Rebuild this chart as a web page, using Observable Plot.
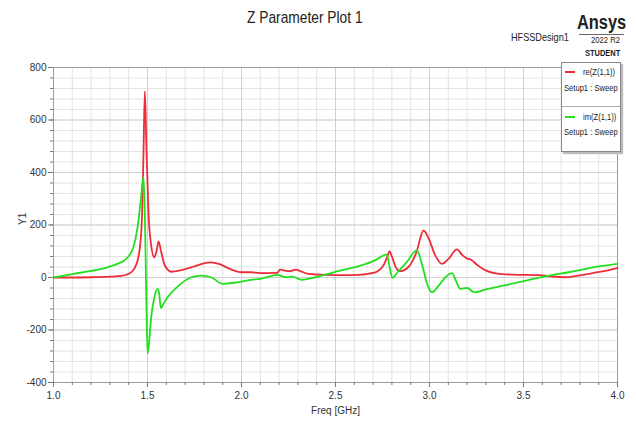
<!DOCTYPE html>
<html>
<head>
<meta charset="utf-8">
<script src="https://cdn.jsdelivr.net/npm/d3@7"></script>
<script src="https://cdn.jsdelivr.net/npm/@observablehq/plot@0.6"></script>
<style>
  body { margin: 0; background: #fff; }
  #wrap { position: relative; width: 636px; height: 424px; font-family: "Liberation Sans", Arial, sans-serif; color: #222; }
  .ov { position: absolute; white-space: nowrap; transform-origin: 0 0; }
  #legend { position: absolute; left: 561px; top: 62px; width: 58px; height: 88px; border: 1px solid #888; background: #fff; box-shadow: 2px 2px 1px #bbb; font-size: 9.5px; color: #222; }
  #legend .sep { position: absolute; left: 0; right: 0; top: 43px; height: 1px; background: #aaa; }
  #legend .sw { position: absolute; left: 3px; width: 10px; height: 2px; }
  #legend .t { position: absolute; white-space: nowrap; transform: scaleX(0.8); transform-origin: 0 0; }
</style>
</head>
<body>
<div id="wrap"></div>
<script>
// ---- data ----
const reFreq = [1.00,1.10,1.20,1.30,1.36,1.40,1.43,1.455,1.47,1.478,1.486,1.494,1.505,1.52,1.536,1.548,1.559,1.572,1.59,1.607,1.625,1.68,1.74,1.79,1.838,1.88,1.94,2.00,2.05,2.10,2.19,2.205,2.22,2.255,2.29,2.31,2.355,2.45,2.55,2.62,2.68,2.72,2.755,2.776,2.787,2.80,2.82,2.844,2.888,2.93,2.968,2.995,3.03,3.066,3.10,3.146,3.175,3.20,3.223,3.25,3.298,3.36,3.44,3.583,3.65,3.725,3.80,3.867,3.94,4.00];
const reVals = [0,0,1,3,6,14,34,91,217,450,710,500,250,120,77,100,138,100,50,30,22,28,40,52,58,52,32,20,20,17,18,30,28,24,30,25,14,10,9,10,15,22,46,80,100,80,40,24,40,95,179,150,85,52,70,107,85,72,67,50,27,15,11,9,4,1,8,17,26,37];

const imFreq = [1.00,1.109,1.20,1.287,1.34,1.376,1.41,1.43,1.452,1.465,1.479,1.487,1.493,1.50,1.508,1.52,1.535,1.553,1.562,1.571,1.585,1.607,1.66,1.73,1.785,1.838,1.90,1.96,2.05,2.10,2.195,2.22,2.24,2.27,2.32,2.38,2.44,2.53,2.62,2.71,2.773,2.785,2.803,2.83,2.88,2.933,2.96,2.99,3.013,3.05,3.09,3.12,3.145,3.164,3.20,3.24,3.30,3.40,3.476,3.56,3.65,3.74,3.83,3.92,4.00];
const imVals = [0,14,25,39,52,65,92,128,217,300,385,200,-50,-290,-250,-150,-80,-43,-60,-117,-100,-75,-35,0,7,1,-24,-20,-9,-5,10,3,1,3,-9,-1,10,27,42,65,88,50,-1,20,60,103,50,-30,-56,-30,5,17,-20,-43,-40,-57,-45,-30,-18,-4,9,20,33,44,52];

const xMajor = [1.0,1.5,2.0,2.5,3.0,3.5,4.0];
const yMajor = [-400,-200,0,200,400,600,800];
const xMinor = d3.range(10,41).map(d => d/10);
const yMinor = d3.range(-400,801,40);

const reData = reFreq.map((f,i) => ({f, v: reVals[i]}));
const imData = imFreq.map((f,i) => ({f, v: imVals[i]}));

const chart = Plot.plot({
  width: 636, height: 424,
  marginLeft: 53, marginRight: 19, marginTop: 67, marginBottom: 42,
  style: {fontFamily: '"Liberation Sans", Arial, sans-serif', fontSize: "10px", color: "#333", background: "#fff"},
  x: {domain: [1, 4]},
  y: {domain: [-400, 800]},
  marks: [
    Plot.ruleX(xMinor, {stroke: "#e3e3e3", strokeWidth: 1}),
    Plot.ruleY(yMinor, {stroke: "#e3e3e3", strokeWidth: 1}),
    Plot.ruleX(xMajor, {stroke: "#d0d0d0", strokeWidth: 1}),
    Plot.ruleY(yMajor, {stroke: "#d0d0d0", strokeWidth: 1}),
    Plot.frame({stroke: "#9a9a9a", strokeWidth: 1}),
    Plot.axisX({ticks: xMinor, tickSize: 3, tickFormat: () => "", stroke: "#777", label: null}),
    Plot.axisX({ticks: xMajor, tickSize: 5, tickPadding: 4, tickFormat: d => d.toFixed(1), stroke: "#777", fill: "#333", label: null}),
    Plot.axisY({ticks: yMinor, tickSize: 3, tickFormat: () => "", stroke: "#777", label: null}),
    Plot.axisY({ticks: yMajor, tickSize: 5, tickPadding: 2, tickFormat: d => String(d), stroke: "#777", fill: "#333", label: null}),
    Plot.text(["Freq [GHz]"], {frameAnchor: "bottom", dy: 31, fontSize: 10, fill: "#333"}),
    Plot.text(["Y1"], {frameAnchor: "left", dx: -31, rotate: -90, fontSize: 10, fill: "#333"}),
    Plot.line(reData, {x: "f", y: "v", stroke: "#ee2d3a", strokeWidth: 1.8, curve: "monotone-x"}),
    Plot.line(imData, {x: "f", y: "v", stroke: "#22e01e", strokeWidth: 1.8, curve: "monotone-x"})
  ]
});

const wrap = document.getElementById("wrap");
wrap.appendChild(chart);

wrap.insertAdjacentHTML("beforeend", `
  <div class="ov" style="left:247px;top:8px;font-size:17px;color:#222;transform:scaleX(0.81);">Z Parameter Plot 1</div>
  <div class="ov" style="left:511px;top:31px;font-size:11px;color:#222;transform:scaleX(0.83);">HFSSDesign1</div>
  <div class="ov" style="left:577px;top:11px;font-size:20px;font-weight:bold;color:#222;transform:scaleX(0.82);">Ansys</div>
  <div class="ov" style="left:579px;top:34px;width:45px;border-top:1px solid #666;"></div>
  <div class="ov" style="left:591px;top:35px;font-size:9px;color:#222;transform:scaleX(0.85);">2022 R2</div>
  <div class="ov" style="left:585px;top:48px;font-size:8.5px;font-weight:bold;color:#222;transform:scaleX(0.88);">STUDENT</div>
  <div id="legend">
    <div class="sw" style="top:8px;background:#ee2d3a;"></div>
    <div class="t" style="left:21px;top:3px;">re(Z(1,1))</div>
    <div class="t" style="left:2px;top:19px;">Setup1 : Sweep</div>
    <div class="sep"></div>
    <div class="sw" style="top:53px;background:#22e01e;"></div>
    <div class="t" style="left:21px;top:48px;">im(Z(1,1))</div>
    <div class="t" style="left:2px;top:63px;">Setup1 : Sweep</div>
  </div>
`);
</script>
</body>
</html>
